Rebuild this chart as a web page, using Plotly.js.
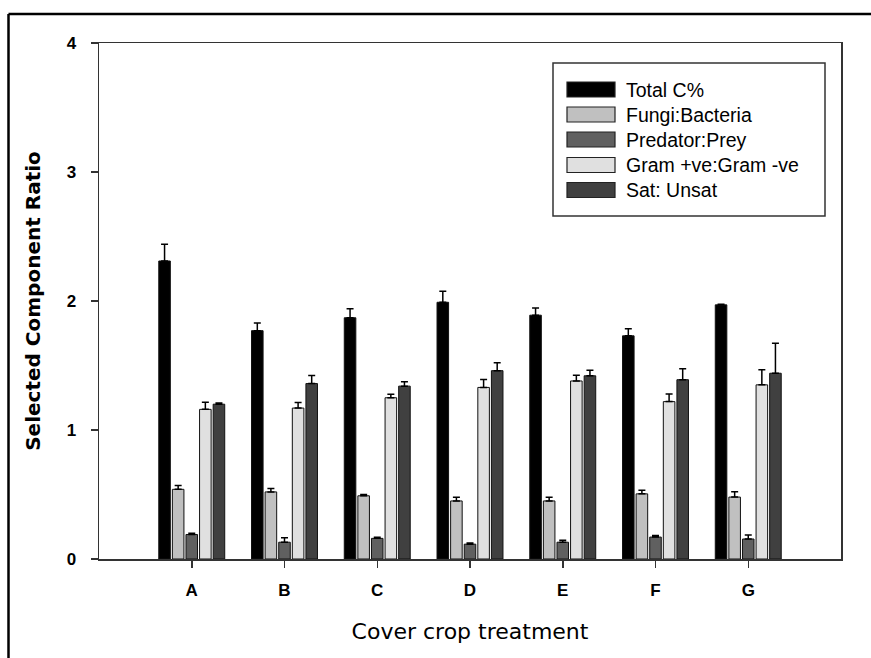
<!DOCTYPE html>
<html>
<head>
<meta charset="utf-8">
<script src="https://cdn.plot.ly/plotly-3.0.1.min.js"></script>
<style>
html,body{margin:0;padding:0;background:#fff;}
#chart{width:871px;height:658px;}
</style>
</head>
<body>
<div id="chart"></div>
<script>
// ---- data ----
const categories = ['A', 'B', 'C', 'D', 'E', 'F', 'G'];
const seriesNames = ['Total C%', 'Fungi:Bacteria', 'Predator:Prey', 'Gram +ve:Gram -ve', 'Sat: Unsat'];
const totalC    = [2.31, 1.77, 1.87, 1.99, 1.89, 1.73, 1.97];
const totalCErr = [0.13, 0.06, 0.07, 0.085, 0.055, 0.055, 0.005];
const fungiBact    = [0.54, 0.52, 0.49, 0.45, 0.45, 0.505, 0.48];
const fungiBactErr = [0.03, 0.026, 0.01, 0.028, 0.028, 0.028, 0.041];
const predPrey    = [0.19, 0.13, 0.16, 0.115, 0.13, 0.17, 0.155];
const predPreyErr = [0.01, 0.034, 0.008, 0.01, 0.016, 0.013, 0.031];
const gramRatio    = [1.16, 1.17, 1.25, 1.33, 1.38, 1.22, 1.35];
const gramRatioErr = [0.056, 0.044, 0.028, 0.062, 0.044, 0.06, 0.117];
const satUnsat    = [1.20, 1.36, 1.34, 1.46, 1.42, 1.39, 1.44];
const satUnsatErr = [0.01, 0.062, 0.034, 0.062, 0.044, 0.085, 0.233];
const yTicks = [0, 1, 2, 3, 4];

// ---- styling ----
const colors = ['#000000', '#c0c0c0', '#606060', '#e0e0e0', '#404040'];
const values = [totalC, fungiBact, predPrey, gramRatio, satUnsat];
const errors = [totalCErr, fungiBactErr, predPreyErr, gramRatioErr, satUnsatErr];

const W = 871, H = 658;
const M = {l: 99, r: 30, t: 43, b: 99};
const PW = W - M.l - M.r, PH = H - M.t - M.b;
const px2x = p => (p - M.l) / PW;
const py2y = p => (H - M.b - p) / PH;

const traces = values.map((v, i) => ({
  type: 'bar',
  name: seriesNames[i],
  x: categories,
  y: v,
  marker: {color: colors[i], line: {color: '#111', width: 1}},
  error_y: {
    type: 'data', symmetric: false,
    array: errors[i], arrayminus: errors[i].map(() => 0),
    color: '#000', thickness: 1.5, width: 3.5
  },
  showlegend: false,
  hoverinfo: 'x+y+name'
}));

const shapes = [];
const annotations = [];

// outer frame (top & left edges)
shapes.push({type: 'line', xref: 'paper', yref: 'paper',
  x0: px2x(8.5), x1: px2x(872), y0: py2y(14), y1: py2y(14),
  line: {color: '#000', width: 2.5}});
shapes.push({type: 'line', xref: 'paper', yref: 'paper',
  x0: px2x(8.5), x1: px2x(8.5), y0: py2y(14), y1: py2y(660),
  line: {color: '#000', width: 2.5}});

// custom legend box
shapes.push({type: 'rect', xref: 'paper', yref: 'paper',
  x0: px2x(553), x1: px2x(825), y0: py2y(216), y1: py2y(63),
  line: {color: '#333', width: 1.5}, fillcolor: '#fff', layer: 'below'});
const rowY = [89.5, 114.5, 139.5, 165, 190];
seriesNames.forEach((n, i) => {
  shapes.push({type: 'rect', xref: 'paper', yref: 'paper',
    x0: px2x(567), x1: px2x(615), y0: py2y(rowY[i] + 7.5), y1: py2y(rowY[i] - 7.5),
    line: {color: '#222', width: 1.2}, fillcolor: colors[i]});
  annotations.push({xref: 'paper', yref: 'paper', x: px2x(624), y: py2y(rowY[i]),
    xanchor: 'left', yanchor: 'middle', showarrow: false, text: n,
    font: {family: 'Liberation Sans, Arial, sans-serif', size: 19.5, color: '#000'}});
});

const layout = {
  width: W, height: H,
  margin: M,
  paper_bgcolor: '#fff', plot_bgcolor: '#fff',
  barmode: 'group', bargap: 0.267, bargroupgap: 0.15,
  xaxis: {
    type: 'category', range: [-1, 7],
    showline: true, mirror: true, linecolor: '#333', linewidth: 1.5,
    ticks: 'outside', ticklen: 7, tickwidth: 1.5, tickcolor: '#333',
    showgrid: false, zeroline: false,
    ticklabelstandoff: 8,
    tickfont: {family: 'Liberation Sans, Arial, sans-serif', size: 17, weight: 700, color: '#000'},
    title: {text: 'Cover crop treatment', standoff: 24,
      font: {family: 'DejaVu Sans, sans-serif', size: 22, color: '#000'}}
  },
  yaxis: {
    range: [0, 4], tickvals: yTicks, ticktext: yTicks.map(String),
    showline: true, mirror: true, linecolor: '#333', linewidth: 1.5,
    ticks: 'outside', ticklen: 7, tickwidth: 1.5, tickcolor: '#333',
    showgrid: false, zeroline: false,
    ticklabelstandoff: 11,
    tickfont: {family: 'Liberation Sans, Arial, sans-serif', size: 17, weight: 700, color: '#000'},
    title: {text: 'Selected Component Ratio', standoff: 20,
      font: {family: 'DejaVu Sans, sans-serif', size: 20, weight: 700, color: '#000'}}
  },
  shapes: shapes,
  annotations: annotations
};

Plotly.newPlot('chart', traces, layout, {displayModeBar: false, staticPlot: true});
</script>
</body>
</html>
